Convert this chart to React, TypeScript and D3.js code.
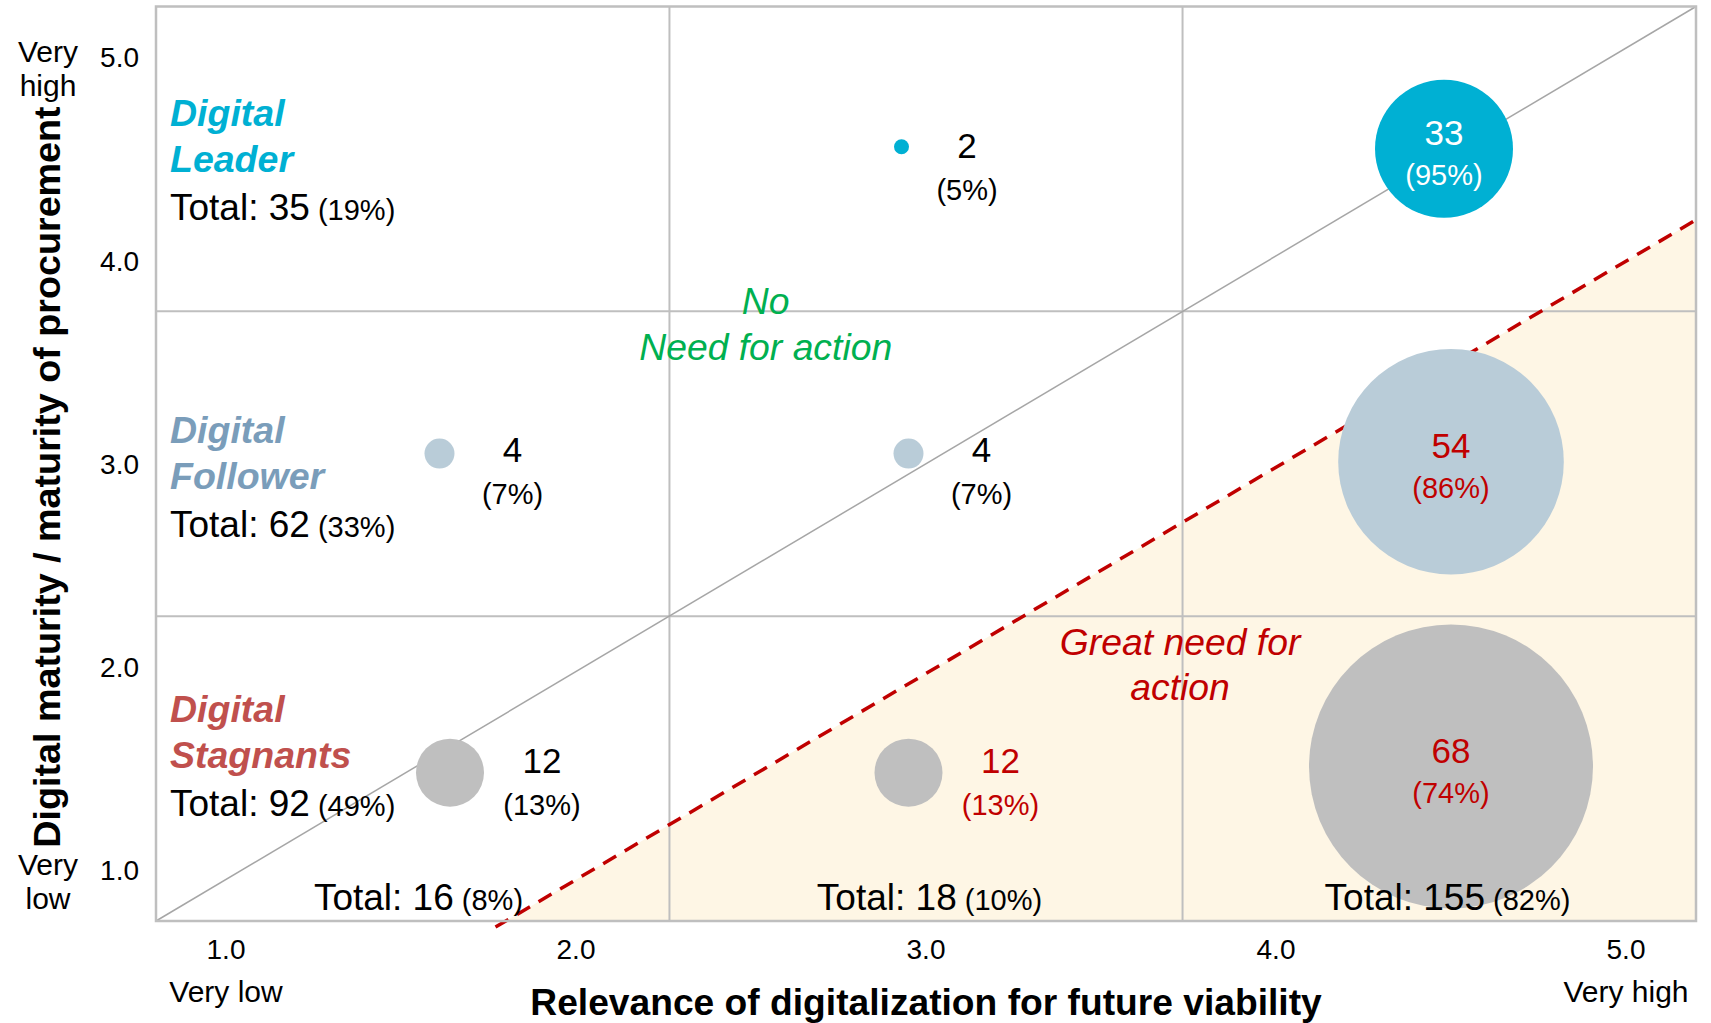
import React from "react";
import * as d3 from "d3";

// ---- data ----
const xTicks = [1, 2, 3, 4, 5];
const yTicks = [1, 2, 3, 4, 5];
const xDomain = [0.8, 5.2];
const yDomain = [0.75, 5.25];
const quadrantBreaksX = [2.267, 3.733];
const quadrantBreaksY = [2.25, 3.75];

const segmentTitles = [
  ["Digital", "Leader"],
  ["Digital", "Follower"],
  ["Digital", "Stagnants"],
];
const segmentTotals = [35, 62, 92];
const segmentShares = [19, 33, 49];
const columnTotals = [16, 18, 155];
const columnShares = [8, 10, 82];

const bubbleX = [2.93, 4.48, 1.61, 2.95, 4.5, 1.64, 2.95, 4.5];
const bubbleY = [4.56, 4.55, 3.05, 3.05, 3.01, 1.48, 1.48, 1.51];
const bubbleCount = [2, 33, 4, 4, 54, 12, 12, 68];
const bubbleShare = [5, 95, 7, 7, 86, 13, 13, 74];
const bubbleSegment = [0, 0, 1, 1, 1, 2, 2, 2];

// threshold line "great need for action" (data units)
const actionLineX = [1.77, 5.2];
const actionLineY = [0.72, 4.2];

// annotation anchors (data units)
const segmentLabelY = [4.66, 3.1, 1.73];
const columnLabelX = [1.55, 3.01, 4.49];
const columnLabelY = 0.804;

const FONT = "'Liberation Sans', Arial, Helvetica, sans-serif";
const bubbleColors = ["#00B0D3", "#B9CCD8", "#BFBFBF"];
const titleColors = ["#00B0D3", "#7A9DBA", "#C0504D"];
const RED = "#C00000";
const GREEN = "#00B050";
const GRID = "#BFBFBF";

export default function App() {
  const W = 1711,
    H = 1023;
  const m = { left: 156, right: 1696, top: 6.5, bottom: 921 };
  const x = d3.scaleLinear().domain(xDomain).range([m.left, m.right]);
  const y = d3.scaleLinear().domain(yDomain).range([m.bottom, m.top]);
  const r = d3
    .scaleLinear()
    .domain([0, 4, 12, 33, 68])
    .range([0, 15, 34, 69, 142]);
  const threshold = d3.scaleLinear().domain(actionLineX).range(actionLineY);

  const linePath = d3
    .line<number>()
    .x((d, i) => x(actionLineX[i]))
    .y((d, i) => y(actionLineY[i]))(actionLineX)!;

  const areaPts: [number, number][] = [
    [x(actionLineX[0]), y(actionLineY[0])],
    [x(actionLineX[1]), y(actionLineY[1])],
    [x(actionLineX[1]), y(actionLineY[0])],
  ];

  return (
    <svg
      width={W}
      height={H}
      style={{ position: "absolute", left: 0, top: 0, background: "#fff" }}
      fontFamily={FONT}
    >
      <defs>
        <clipPath id="plotClip">
          <rect x={m.left} y={m.top} width={m.right - m.left} height={m.bottom - m.top} />
        </clipPath>
      </defs>

      {/* shaded area */}
      <polygon
        points={areaPts.map((p) => p.join(",")).join(" ")}
        fill="#FEF6E5"
        clipPath="url(#plotClip)"
      />

      {/* grid */}
      {quadrantBreaksX.map((v) => (
        <line key={"gx" + v} x1={x(v)} x2={x(v)} y1={m.top} y2={m.bottom} stroke={GRID} strokeWidth={2} />
      ))}
      {quadrantBreaksY.map((v) => (
        <line key={"gy" + v} x1={m.left} x2={m.right} y1={y(v)} y2={y(v)} stroke={GRID} strokeWidth={2} />
      ))}

      {/* diagonal */}
      <line
        x1={x(xDomain[0])}
        y1={y(yDomain[0])}
        x2={x(xDomain[1])}
        y2={y(yDomain[1])}
        stroke="#A6A6A6"
        strokeWidth={1.5}
      />

      {/* dashed threshold line */}
      <path d={linePath} fill="none" stroke={RED} strokeWidth={3.5} strokeDasharray="15,10" />

      {/* border */}
      <rect
        x={m.left}
        y={m.top}
        width={m.right - m.left}
        height={m.bottom - m.top}
        fill="none"
        stroke={GRID}
        strokeWidth={2.5}
      />

      {/* bubbles */}
      {bubbleX.map((bx, i) => (
        <circle
          key={"b" + i}
          cx={x(bx)}
          cy={y(bubbleY[i])}
          r={r(bubbleCount[i])}
          fill={bubbleColors[bubbleSegment[i]]}
        />
      ))}

      {/* bubble labels */}
      {bubbleX.map((bx, i) => {
        const cx = x(bx);
        const cy = y(bubbleY[i]);
        const rr = r(bubbleCount[i]);
        const inside = rr > 60;
        const below = bubbleY[i] < threshold(bx);
        const color = below ? RED : inside ? "#FFFFFF" : "#000000";
        const lx = inside ? cx : cx + rr + 58;
        const ly = inside ? cy - 4 : cy + 14 - 0.4 * rr;
        return (
          <g key={"l" + i} fill={color} textAnchor="middle">
            <text x={lx} y={ly} fontSize={35}>
              {bubbleCount[i]}
            </text>
            <text x={lx} y={ly + (inside ? 40 : 42)} fontSize={29}>
              {`(${bubbleShare[i]}%)`}
            </text>
          </g>
        );
      })}

      {/* segment titles */}
      {segmentTitles.map((t, i) => {
        const yy = y(segmentLabelY[i]);
        return (
          <g key={"s" + i}>
            <text x={m.left + 14} y={yy} fontSize={37.5} fontWeight="bold" fontStyle="italic" fill={titleColors[i]}>
              {t[0]}
            </text>
            <text x={m.left + 14} y={yy + 46} fontSize={37.5} fontWeight="bold" fontStyle="italic" fill={titleColors[i]}>
              {t[1]}
            </text>
            <text x={m.left + 14} y={yy + 94} fontSize={37} fill="#000">
              {`Total: ${segmentTotals[i]}`}
              <tspan fontSize={29}>{` (${segmentShares[i]}%)`}</tspan>
            </text>
          </g>
        );
      })}

      {/* column totals */}
      {columnTotals.map((t, i) => (
        <text key={"c" + i} x={x(columnLabelX[i])} y={y(columnLabelY)} fontSize={37} textAnchor="middle" fill="#000">
          {`Total: ${t}`}
          <tspan fontSize={29}>{` (${columnShares[i]}%)`}</tspan>
        </text>
      ))}

      {/* zone annotations */}
      <g fill={GREEN} fontStyle="italic" fontSize={37.3} textAnchor="middle">
        <text x={x(2.542)} y={y(3.736)}>No</text>
        <text x={x(2.542)} y={y(3.736) + 46}>Need for action</text>
      </g>
      <g fill={RED} fontStyle="italic" fontSize={37.3} textAnchor="middle">
        <text x={x(3.726)} y={y(2.059)}>Great need for</text>
        <text x={x(3.726)} y={y(2.059) + 45}>action</text>
      </g>

      {/* y ticks */}
      {yTicks.map((v) => (
        <text key={"yt" + v} x={139} y={y(v) + 10} fontSize={28} textAnchor="end" fill="#000">
          {d3.format(".1f")(v)}
        </text>
      ))}
      <g fontSize={30} textAnchor="middle" fill="#000">
        <text x={48} y={y(5) + 5}>Very</text>
        <text x={48} y={y(5) + 39}>high</text>
        <text x={48} y={y(1) + 5}>Very</text>
        <text x={48} y={y(1) + 39}>low</text>
      </g>

      {/* x ticks */}
      {xTicks.map((v) => (
        <text key={"xt" + v} x={x(v)} y={959} fontSize={28} textAnchor="middle" fill="#000">
          {d3.format(".1f")(v)}
        </text>
      ))}
      <g fontSize={30} textAnchor="middle" fill="#000">
        <text x={x(1)} y={1002}>Very low</text>
        <text x={x(5)} y={1002}>Very high</text>
      </g>

      {/* axis titles */}
      <text x={926} y={1015} fontSize={37.2} fontWeight="bold" textAnchor="middle" fill="#000">
        Relevance of digitalization for future viability
      </text>
      <text
        transform={`translate(60, 477) rotate(-90)`}
        fontSize={37.7}
        fontWeight="bold"
        textAnchor="middle"
        fill="#000"
      >
        Digital maturity / maturity of procurement
      </text>
    </svg>
  );
}
